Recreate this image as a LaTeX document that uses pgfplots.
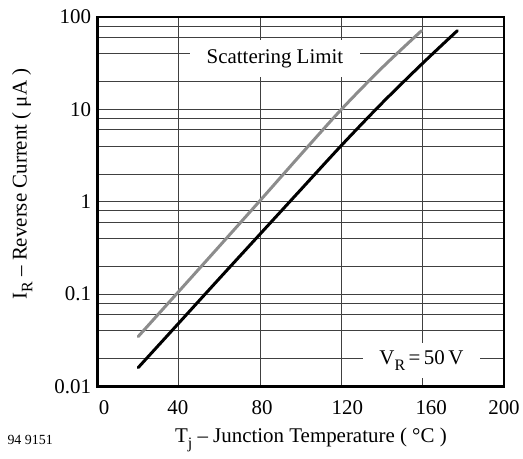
\documentclass[border=0pt]{standalone}
\usepackage{pgfplots}
\pgfplotsset{compat=1.18}
\usepackage{fontspec}
\setmainfont{Liberation Serif}
\definecolor{curvegray}{RGB}{140,140,140}
\newcommand{\chartfont}{\fontsize{21}{24}\selectfont}
\newcommand{\sub}[1]{\raisebox{-0.28em}{\fontsize{16}{18}\selectfont #1}}

\begin{document}
\begin{tikzpicture}[x=1bp,y=1bp]
\useasboundingbox (0,0) rectangle (523,459);
\begin{axis}[
    at={(97.5bp,72.5bp)}, anchor=south west,
    scale only axis,
    width=406.5bp, height=369.5bp,
    xmin=0, xmax=200,
    ymode=log, ymin=0.01, ymax=100,
    xtick={0,40,80,120,160,200},
    xticklabels={\hspace*{13bp}0, 40\hspace*{2bp}, \hspace*{4bp}80,
                 \hspace*{12bp}120, \hspace*{17bp}160, \raisebox{5bp}{200}},
    ytick={0.01,0.1,1,10,100},
    yticklabels={0.01,0.1,1,10,100},
    minor ytick={0.02,0.04,0.06,0.08,0.2,0.4,0.6,0.8,2,4,6,8,20,40,60,80},
    grid=both,
    major grid style={black!75, line width=0.8bp},
    minor grid style={black!75, line width=0.8bp},
    major tick length=0pt, minor tick length=0pt,
    axis line style={line width=2.6bp},
    tick label style={font=\chartfont},
    xticklabel style={yshift=-11bp},
    yticklabel style={xshift=-3bp},
    /pgf/number format/assume math mode=true,
    label style={font=\chartfont},
    xlabel={T\sub{j} – Junction Temperature ( °C )},
    ylabel={I\sub{R} – Reverse Current ( μA )},
    xlabel style={at={(axis description cs:0.525,-0.145)}, anchor=center},
    ylabel style={at={(axis description cs:-0.185,0.548)}, anchor=center},
]
\node[fill=white, inner sep=0pt, minimum width=170bp, minimum height=37bp,
      font=\chartfont] at (axis cs:87.3,35.6) {Scattering Limit};
\node[fill=white, inner sep=0pt, minimum width=117bp, minimum height=35bp,
      font=\chartfont] at (axis cs:159.4,0.0191) {V\sub{R}\,=\,50\,V};

% upper limit (scattering)
\addplot[curvegray, line width=3bp, line cap=round, smooth] coordinates {
  (20,0.0347) (40,0.107) (60,0.331) (80,1.03) (100,3.24) (120,10.0) (140,28.2) (159.4,71)
};
% typical
\addplot[black, line width=3bp, line cap=round, smooth] coordinates {
  (20,0.016) (40,0.0486) (60,0.148) (80,0.447) (100,1.35) (120,4.07) (140,11.7) (160,31.6) (177,71)
};
\end{axis}
\node[anchor=west, font=\fontsize{14}{16}\selectfont] at (4,19) {94 9151};
\end{tikzpicture}
\end{document}
